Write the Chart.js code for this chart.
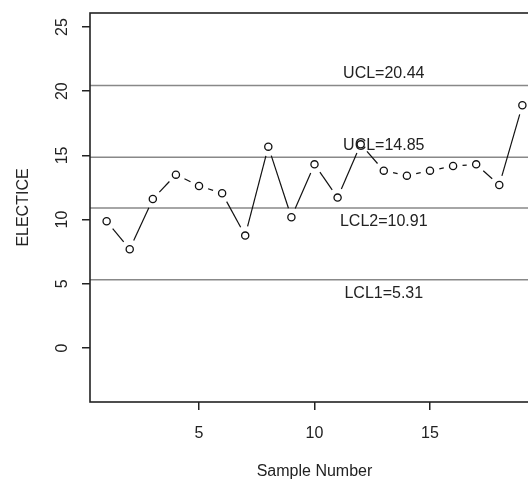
<!DOCTYPE html>
<html>
<head>
<meta charset="utf-8">
<script src="https://cdn.jsdelivr.net/npm/chart.js@4.4.1/dist/chart.umd.min.js"></script>
<style>
  html, body { margin: 0; padding: 0; background: #fff; overflow: hidden; }
  #wrap { width: 545px; height: 480px; }
</style>
</head>
<body>
<div id="wrap"><canvas id="chart" width="545" height="480"></canvas></div>
<script>
// sample numbers and measured values
const sampleNo = [1, 2, 3, 4, 5, 6, 7, 8, 9, 10, 11, 12, 13, 14, 15, 16, 17, 18, 19];
const electice = [9.87, 7.69, 11.6, 13.5, 12.62, 12.05, 8.75, 15.68, 10.18, 14.3,
                  11.71, 15.86, 13.81, 13.42, 13.81, 14.17, 14.3, 12.69, 18.9];

// control limits
const limitValues = [20.44, 14.85, 10.91, 5.31];
const limitLabels = ["UCL=20.44", "UCL=14.85", "LCL2=10.91", "LCL1=5.31"];
const limitAbove = [true, true, false, false];
const limitLabelX = 13;

// tick labels
const xTicks = [5, 10, 15];
const yTicks = [0, 5, 10, 15, 20, 25];

const FONT = "'Liberation Sans', Arial, sans-serif";
const INK = "#222";

//draws control lines + their labels, under the points
const limitsPlugin = {
    id: "limits",
    beforeDatasetsDraw(chart) {
        const {ctx, chartArea, scales} = chart;
        ctx.save();
        ctx.strokeStyle = "#888";
        ctx.lineWidth = 1.5;
        ctx.font = "16px " + FONT;
        ctx.fillStyle = INK;
        ctx.textAlign = "center";
        ctx.textBaseline = "middle";
        limitValues.forEach((v, i) => {
            const y = scales.y.getPixelForValue(v);
            ctx.beginPath();
            ctx.moveTo(chartArea.left, y);
            ctx.lineTo(chartArea.right, y);
            ctx.stroke();
            const tx = scales.x.getPixelForValue(limitLabelX);
            ctx.fillText(limitLabels[i], tx, limitAbove[i] ? y - 12 : y + 14);
        });
        ctx.restore();
    },
    //R style "b" lines: segments with a gap at each point
    afterDatasetsDraw(chart) {
        const {ctx} = chart;
        const pts = chart.getDatasetMeta(0).data;
        const gap = 9.5;
        ctx.save();
        ctx.strokeStyle = "#111";
        ctx.lineWidth = 1.2;
        for (let i = 0; i < pts.length - 1; i++) {
            const a = pts[i], b = pts[i + 1];
            const dx = b.x - a.x, dy = b.y - a.y;
            const len = Math.sqrt(dx * dx + dy * dy);
            if (len <= gap * 2) continue;
            const ux = dx / len, uy = dy / len;
            ctx.beginPath();
            ctx.moveTo(a.x + ux * gap, a.y + uy * gap);
            ctx.lineTo(b.x - ux * gap, b.y - uy * gap);
            ctx.stroke();
        }
        ctx.restore();
    },
    afterDraw(chart) {
        const {ctx, chartArea, scales} = chart;
        ctx.save();
        //box round the plot
        ctx.strokeStyle = INK;
        ctx.lineWidth = 1.6;
        ctx.strokeRect(chartArea.left, chartArea.top,
            chartArea.right - chartArea.left, chartArea.bottom - chartArea.top);
        //rotated y tick labels
        ctx.font = "16px " + FONT;
        ctx.fillStyle = INK;
        ctx.textAlign = "center";
        ctx.textBaseline = "middle";
        scales.y.ticks.forEach(t => {
            const y = scales.y.getPixelForValue(t.value);
            ctx.save();
            ctx.translate(63, y);
            ctx.rotate(-Math.PI / 2);
            ctx.fillText(String(t.value), 0, 0);
            ctx.restore();
        });
        ctx.restore();
    }
};

new Chart(document.getElementById("chart"), {
    type: "scatter",
    plugins: [limitsPlugin],
    data: {
        datasets: [{
            data: sampleNo.map((x, i) => ({x: x, y: electice[i]})),
            showLine: false,
            pointStyle: "circle",
            pointRadius: 3.6,
            pointBorderWidth: 1.3,
            pointBorderColor: "#111",
            pointBackgroundColor: "rgba(0,0,0,0)"
        }]
    },
    options: {
        responsive: false,
        animation: false,
        layout: { padding: { left: 0, top: 13, right: 6, bottom: 0 } },
        plugins: {
            legend: { display: false },
            tooltip: { enabled: false }
        },
        scales: {
            x: {
                type: "linear",
                min: 0.28,
                max: 19.72,
                afterBuildTicks: s => { s.ticks = xTicks.map(v => ({value: v})); },
                afterFit: s => { s.height = 78; },
                grid: { drawOnChartArea: false, tickLength: 8, tickColor: INK, lineWidth: 1.5 },
                border: { display: false },
                ticks: { color: INK, font: { family: FONT, size: 16 }, padding: 14, maxRotation: 0 },
                title: {
                    display: true,
                    text: "Sample Number",
                    color: INK,
                    font: { family: FONT, size: 16, lineHeight: 1 },
                    padding: { top: 0, bottom: 0 }
                }
            },
            y: {
                type: "linear",
                min: -4.21,
                max: 26.09,
                afterBuildTicks: s => { s.ticks = yTicks.map(v => ({value: v})); },
                afterFit: s => { s.width = 90; },
                grid: { drawOnChartArea: false, tickLength: 8, tickColor: INK, lineWidth: 1.5 },
                border: { display: false },
                ticks: { display: false },
                title: {
                    display: true,
                    text: "ELECTICE",
                    color: INK,
                    font: { family: FONT, size: 16, lineHeight: 1 },
                    padding: { top: 16, bottom: 0 }
                }
            }
        }
    }
});
</script>
</body>
</html>
